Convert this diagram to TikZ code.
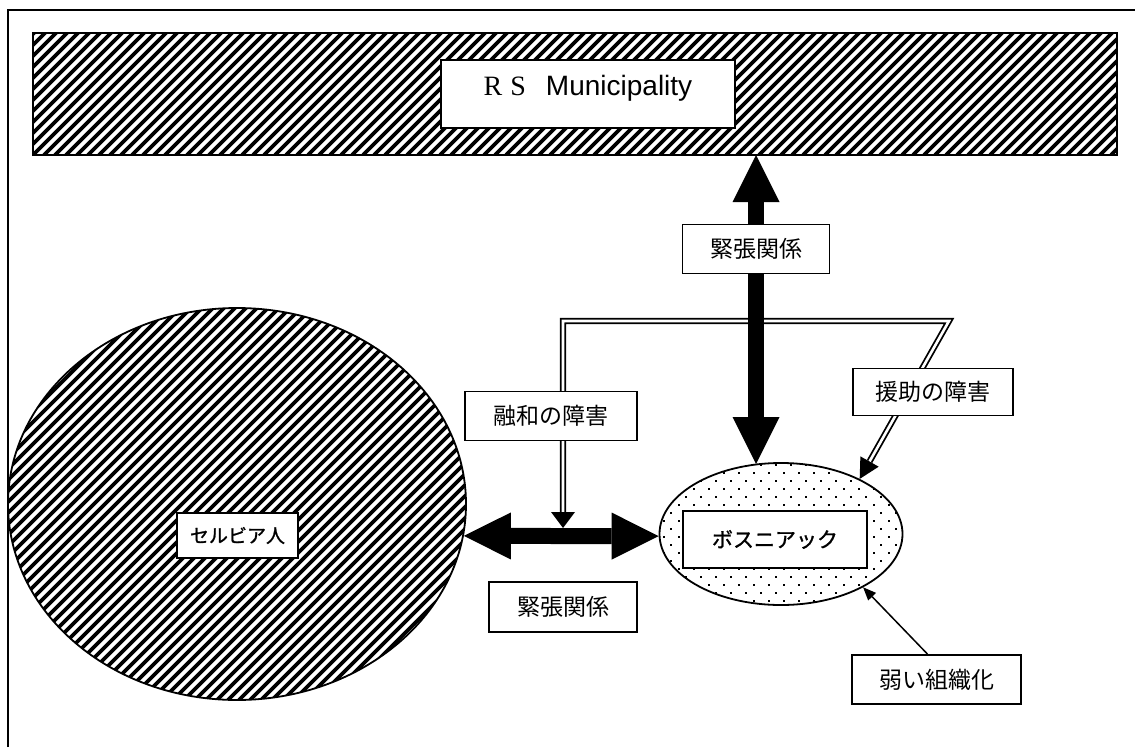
\documentclass[tikz,border=0pt]{standalone}
\usepackage{fontspec}
\setmainfont{Liberation Sans}
\newfontfamily\jp{Noto Sans CJK JP}
\newfontfamily\jpb[FakeBold=1.2]{Noto Sans CJK JP}
\newfontfamily\rsserif{Liberation Serif}
\usetikzlibrary{arrows.meta,shapes.geometric,calc}
\tikzset{
  lbl/.style={draw, line width=1.8pt, fill=white, inner sep=0pt,
    font=\jp\fontsize{23}{26}\selectfont, minimum height=49pt},
  hatch/.style={path picture={
    \foreach \i in {-110,...,110}{
      \draw[line width=3.6pt] ([xshift=\i*11]path picture bounding box.south west) -- ++(1300pt,1300pt);}}},
  dots/.style={path picture={
    \foreach \r in {0,...,19}{
      \foreach \c in {0,...,17}{
        \fill ([xshift={\c*15+mod(\r,2)*7.5+3}, yshift={\r*8+3}]path picture bounding box.south west) rectangle ++(2.4pt,2.4pt);}}}},
  bigarrow/.style={line width=16pt,
    {Triangle[length=47pt,width=47pt,line width=0pt]}-{Triangle[length=47pt,width=47pt,line width=0pt]}},
  dbl/.style={double, line width=1.8pt, double distance=2.6pt},
  thinarrow/.style={line width=1.5pt, -{Triangle[length=13pt,width=11pt,line width=0pt]}},
}
\begin{document}
\begin{tikzpicture}[x=1pt,y=-1pt]
\path[use as bounding box] (0,0) rectangle (1135,747);
% frame (open at right and bottom)
\coordinate (fbl) at (8,747);
\coordinate (ftl) at (8,10);
\coordinate (ftr) at (1135,10);
\draw[line width=2pt] (fbl) -- (ftl) -- (ftr);

% banner
\node[draw, line width=1.5pt, hatch, inner sep=0pt, minimum width=1084pt, minimum height=122pt] (banner) at (575,94) {};
\node[draw, line width=1.8pt, fill=white, inner sep=0pt, minimum width=294pt, minimum height=68pt] (rsbox) at (588,94) {};
\node[anchor=base, inner sep=0pt, font=\fontsize{28}{30}\selectfont] (rstext) at (588,95) {{\rsserif R\hspace{8pt}S}\hspace{20pt}Municipality};

% ellipses
\node[ellipse, draw, line width=1.8pt, hatch, inner sep=0pt, minimum width=458pt, minimum height=392pt] (serb) at (237,504) {};
\node[ellipse, draw, line width=1.8pt, dots, inner sep=0pt, minimum width=243pt, minimum height=142pt] (bosn) at (781,534) {};

% connector coordinates
\coordinate (merge) at (563,528);
\coordinate (c1) at (563,321);
\coordinate (c2) at (949,321);
\coordinate (vtop) at (756,155);
\coordinate (vbot) at (756,464);

% double-line connector
\draw[dbl, {Triangle[length=16pt,width=24pt,line width=0pt]}-{Triangle[length=20pt,width=21pt,line width=0pt]}]
  (merge) -- (c1) -- (c2) -- (bosn.35);

% thick arrows
\draw[bigarrow] (vtop) -- (vbot);
\draw[bigarrow] (serb.-8.3) -- (bosn.181.4);

% labels
\node[lbl, minimum width=147pt] (t1) at (756,249) {緊張関係};
\node[lbl, minimum width=172pt] (yuwa) at (551,416) {融和の障害};
\node[lbl, minimum width=160pt, minimum height=47pt] (enjo) at (933,392) {援助の障害};
\node[lbl, minimum width=121pt, minimum height=45pt, font=\jpb\fontsize{19}{22}\selectfont] (serbt) at (237.5,535.5) {セルビア人};
\node[lbl, minimum width=184pt, minimum height=57pt, font=\jpb\fontsize{21}{24}\selectfont] (bosnt) at (775,539.5) {ボスニアック};
\node[lbl, minimum width=148pt, minimum height=50pt] (t2) at (563,607) {緊張関係};
\node[lbl, minimum width=169pt] (weak) at (936.5,679.5) {弱い組織化};

% thin arrow
\draw[thinarrow] ([xshift=-9pt]weak.north) -- (bosn.-33.7);
\end{tikzpicture}
\end{document}
